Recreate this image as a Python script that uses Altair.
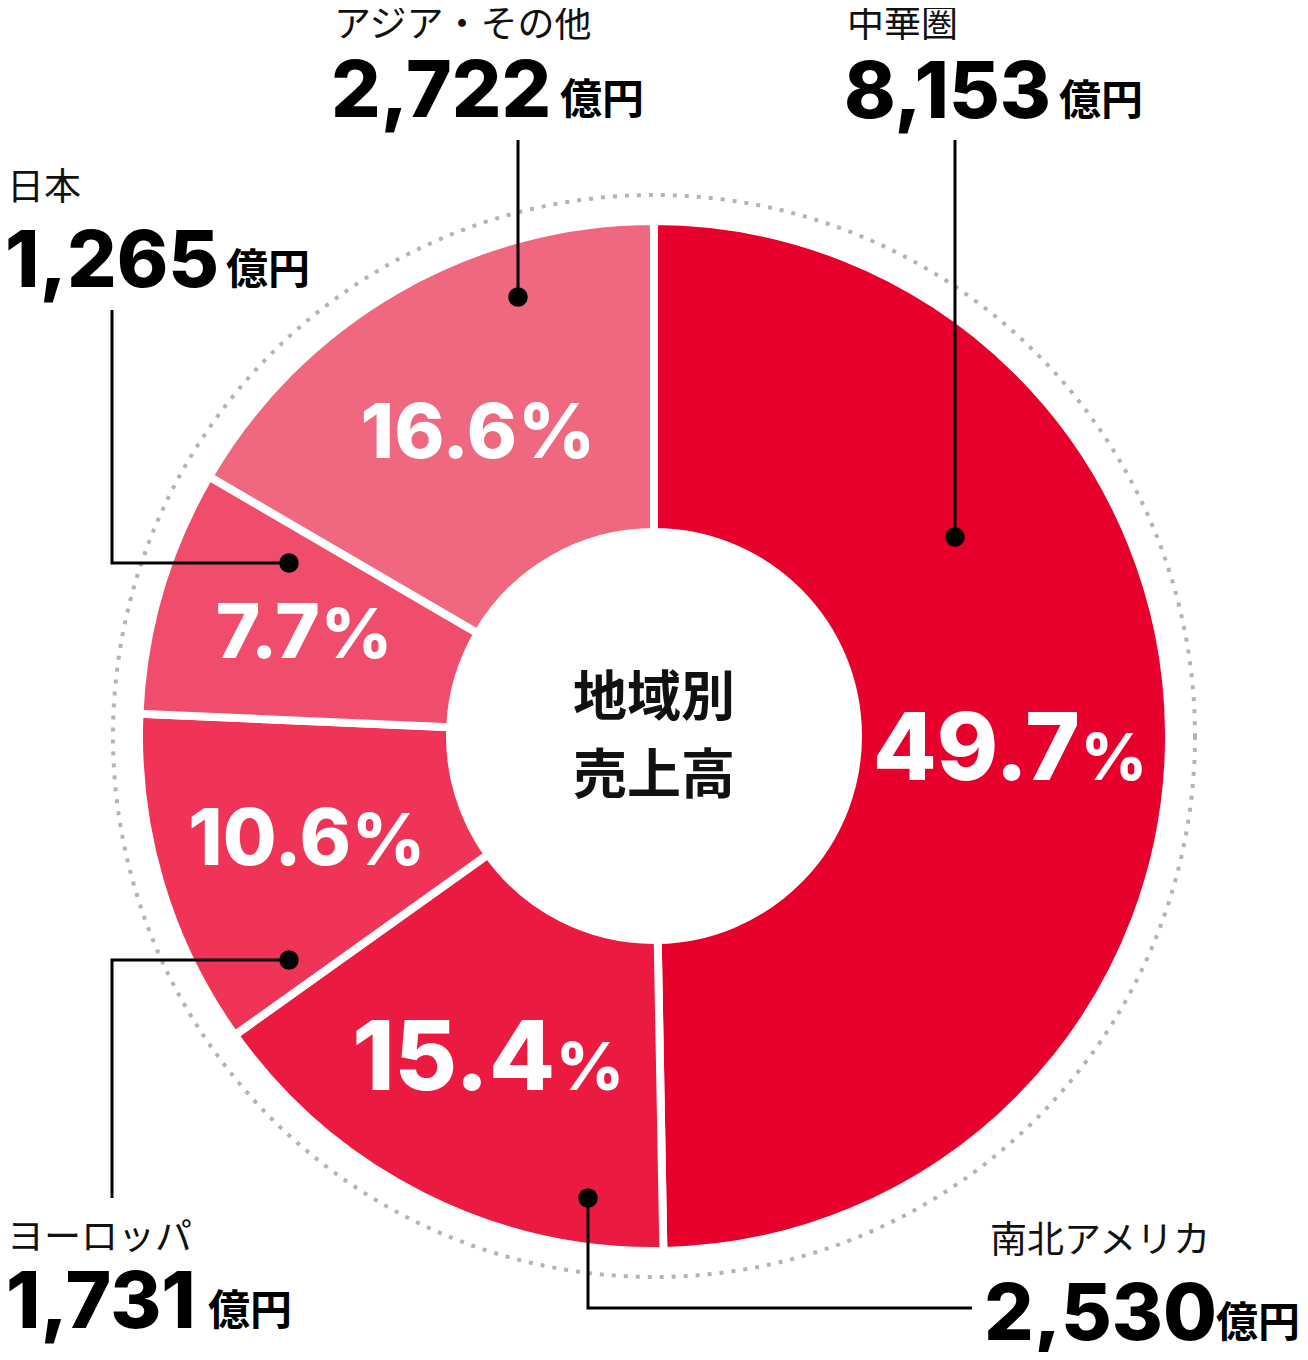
import altair as alt
import pandas as pd

# ---- data ----
regions = ["中華圏", "南北アメリカ", "ヨーロッパ", "日本", "アジア・その他"]
sales = [8153, 2530, 1731, 1265, 2722]
sales_text = ["8,153", "2,530", "1,731", "1,265", "2,722"]
share_num = ["49.7", "15.4", "10.6", "7.7", "16.6"]
colors = ["#E8002D", "#EB1A40", "#EF3457", "#EF4D6B", "#F06780"]
unit = "億円"
center_lines = ["地域別", "売上高"]

# ---- layout (image pixel coordinates) ----
cat_x = [847, 990, 7, 7, 334]
cat_y = [37, 1253, 1250, 200, 37]
num_x = [844, 984, 6, 5, 331]
num_y = [118, 1340, 1328, 287, 117]
unit_x = [1059, 1216, 208, 226, 560]
unit_y = [115, 1337, 1325, 284, 114]

pct_right = [1080, 555, 351, 320, 517]
pct_base = [780, 1090, 865, 658, 458]
pct_size = [93, 96, 78, 76, 76]
sym_size = [64, 66, 71, 69, 75]

lead_paths = [
    [(955, 140), (955, 537)],
    [(972, 1308), (588, 1308), (588, 1198)],
    [(112, 1198), (112, 960), (289, 960)],
    [(112, 310), (112, 563), (289, 563)],
    [(518, 140), (518, 297)],
]

CX, CY = 654 - 8, 736 - 8

slices = pd.DataFrame({
    "region": regions, "sales": sales, "ord": list(range(len(regions))),
})

labels = pd.DataFrame({
    "region": regions, "sales_text": sales_text, "unit": [unit] * 5,
    "cat_x": cat_x, "cat_y": cat_y, "num_x": num_x, "num_y": num_y,
    "unit_x": unit_x, "unit_y": unit_y,
    "pct": share_num, "sym": ["%"] * 5,
    "pct_x": pct_right, "sym_x": [p + 1 for p in pct_right],
    "pct_y": pct_base, "pct_size": pct_size, "sym_size": sym_size,
})

line_rows = []
dot_rows = []
for i, path in enumerate(lead_paths):
    for j, (px, py) in enumerate(path):
        line_rows.append({"g": regions[i], "seq": j, "x": px, "y": py})
    dot_rows.append({"g": regions[i], "x": path[-1][0], "y": path[-1][1]})
lines = pd.DataFrame(line_rows)
dots = pd.DataFrame(dot_rows)

center = pd.DataFrame({"t": center_lines, "x": [654, 654], "y": [716, 794]})

W, H = 1292, 1344
xs = alt.Scale(domain=[8, 8 + W], range=[0, W])
ys = alt.Scale(domain=[8, 8 + H], range=[0, H])
X = lambda f: alt.X(f, type="quantitative", scale=xs, axis=None)
Y = lambda f: alt.Y(f, type="quantitative", scale=ys, axis=None)

NUMFONT = "Inter"

ring = alt.Chart(pd.DataFrame({"a": [1]})).mark_point(
    shape="circle", filled=False, size=(2 * 541) ** 2, stroke="#B4B4B4",
    strokeWidth=4, strokeDash=[4, 8], opacity=1
).encode(x=alt.value(CX), y=alt.value(CY))

donut = alt.Chart(slices).mark_arc(
    innerRadius=204, outerRadius=515, stroke="white", strokeWidth=8
).encode(
    theta=alt.Theta("sales:Q", stack=True),
    order=alt.Order("ord:Q"),
    color=alt.Color("region:N", scale=alt.Scale(domain=regions, range=colors), legend=None),
    x=alt.value(CX), y=alt.value(CY),
)

lead = alt.Chart(lines).mark_line(color="black", strokeWidth=3).encode(
    x=X("x"), y=Y("y"), detail="g:N", order="seq:Q"
)
lead_dots = alt.Chart(dots).mark_circle(color="black", size=380, opacity=1).encode(
    x=X("x"), y=Y("y")
)

cat_text = alt.Chart(labels).mark_text(
    font="Noto Sans CJK JP", fontSize=37, fontWeight=400, align="left",
    baseline="alphabetic", color="#111111"
).encode(x=X("cat_x"), y=Y("cat_y"), text="region:N")

num_text = alt.Chart(labels).mark_text(
    font=NUMFONT, fontSize=78, fontWeight=800, align="left",
    baseline="alphabetic", color="#000000"
).encode(x=X("num_x"), y=Y("num_y"), text="sales_text:N")

unit_text = alt.Chart(labels).mark_text(
    font="Noto Sans CJK JP", fontSize=42, fontWeight=700, align="left",
    baseline="alphabetic", color="#000000"
).encode(x=X("unit_x"), y=Y("unit_y"), text="unit:N")

pct_text = alt.Chart(labels).mark_text(
    font=NUMFONT, fontWeight=800, align="right", baseline="alphabetic", color="white"
).encode(x=X("pct_x"), y=Y("pct_y"), text="pct:N",
         size=alt.Size("pct_size:Q", scale=None))

sym_text = alt.Chart(labels).mark_text(
    font=NUMFONT, fontWeight=800, align="left", baseline="alphabetic", color="white"
).encode(x=X("sym_x"), y=Y("pct_y"), text="sym:N",
         size=alt.Size("sym_size:Q", scale=None))

center_text = alt.Chart(center).mark_text(
    font="Noto Sans CJK JP", fontSize=54, fontWeight=700, align="center",
    baseline="alphabetic", color="#111111"
).encode(x=X("x"), y=Y("y"), text="t:N")

chart = alt.layer(
    ring, donut, lead, lead_dots, cat_text, num_text, unit_text,
    pct_text, sym_text, center_text
).properties(
    width=W, height=H, padding=0, autosize=alt.AutoSizeParams(type="none"),
    background="white"
).configure_view(stroke=None)

chart.save("out.html", embed_options={"renderer": "svg", "actions": False})
